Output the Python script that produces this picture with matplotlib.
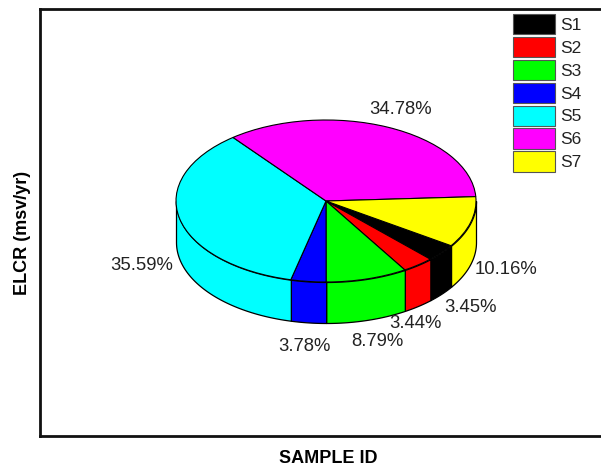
import numpy as np
import matplotlib
matplotlib.use("Agg")
import matplotlib.pyplot as plt
from matplotlib.patches import Patch

plt.rcParams["font.family"] = ["Liberation Sans", "DejaVu Sans"]

samples = ["S1", "S2", "S3", "S4", "S5", "S6", "S7"]
elcr_share = [3.45, 3.44, 8.79, 3.78, 35.59, 34.78, 10.16]
colors = ["#000000", "#ff0000", "#00ff00", "#0000ff", "#00ffff", "#ff00ff", "#ffff00"]
value_labels = ["3.45%", "3.44%", "8.79%", "3.78%", "35.59%", "34.78%", "10.16%"]

# label centres in pixels, same order as the samples
label_pos = [(470, 308), (415, 323), (377, 342), (304, 346), (142, 266), (401, 109), (506, 269)]

W, H = 601, 469
# pie layout in pixels
cx, cy, rx, ry, depth = 326, 201, 150, 81, 41
start_angle = -33.5

fig = plt.figure(figsize=(W / 100, H / 100), dpi=100)
left, right, top, bottom = 40, 604, 9, 436
ax = fig.add_axes([left / W, 1 - bottom / H, (right - left) / W, (bottom - top) / H])

# side wall first, only the front half of the cylinder shows
share = np.array(elcr_share)
edges = start_angle - np.concatenate([[0], np.cumsum(share / share.sum() * 360)])
for i in range(len(share)):
    a0, a1 = edges[i + 1], edges[i]
    shown = [(a0, a1), (a0 + 360, a1 + 360)]
    for lo, hi in shown:
        lo, hi = max(lo, -180), min(hi, 0)
        if hi <= lo:
            continue
        t = np.radians(np.linspace(lo, hi, 80))
        ax.fill_between(np.cos(t), np.sin(t), np.sin(t) - depth / ry,
                        facecolor=colors[i], edgecolor="black", linewidth=0.9)

ax.pie(elcr_share, colors=colors, startangle=start_angle, counterclock=False,
       radius=1, frame=True, wedgeprops={"edgecolor": "black", "linewidth": 0.8})

ax.set_aspect("auto")
ax.set_xlim((left - cx) / rx, (right - cx) / rx)
ax.set_ylim((cy - bottom) / ry, (cy - top) / ry)
ax.set_xticks([])
ax.set_yticks([])
for sp in ax.spines.values():
    sp.set_linewidth(2)
    sp.set_color("#111111")

for txt, (px, py) in zip(value_labels, label_pos):
    fig.text(px / W, 1 - py / H, txt, fontsize=13.3, color="#222222", ha="center", va="center")

handles = [Patch(facecolor=c, edgecolor="#555555", linewidth=0.8, label=s)
           for c, s in zip(colors, samples)]
fig.legend(handles=handles, loc="upper left", bbox_to_anchor=(513 / W, 1 - 14 / H),
           frameon=False, fontsize=12.5, borderpad=0, borderaxespad=0,
           handlelength=2.42, handleheight=1.42, labelspacing=0.15, handletextpad=0.27,
           labelcolor="#222222")

fig.text(328 / W, 1 - 458 / H, "SAMPLE ID", fontsize=13, fontweight="bold", ha="center", va="center")
fig.text(23 / W, 1 - 233 / H, "ELCR (msv/yr)", fontsize=13, fontweight="bold",
         rotation=90, ha="center", va="center")

fig.savefig("out.png", dpi=100)
